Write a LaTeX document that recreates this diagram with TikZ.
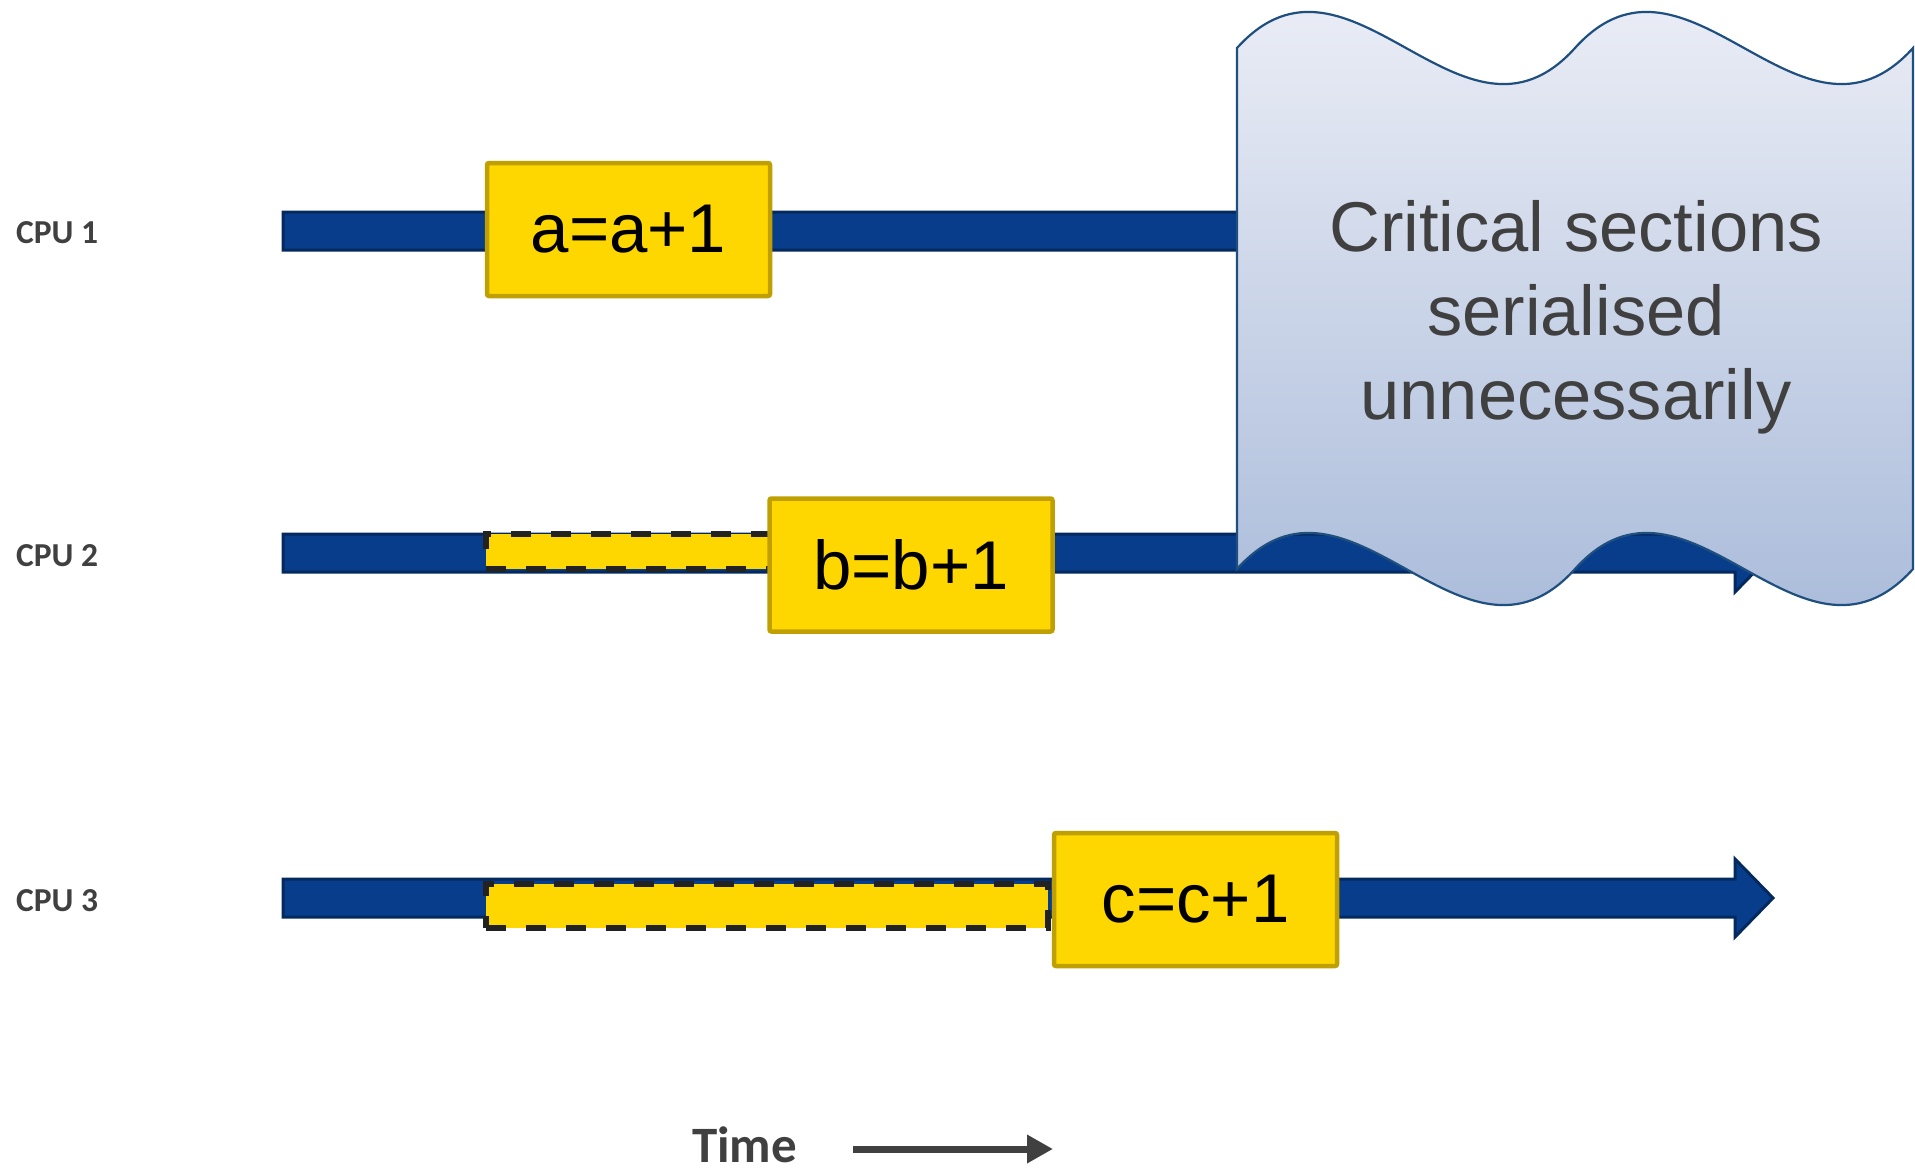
\documentclass[tikz,border=0pt]{standalone}
\usepackage{fontspec}
\setmainfont{Liberation Sans}
\newfontfamily\calibrifont{Carlito}
\usetikzlibrary{arrows.meta}
\definecolor{barblue}{HTML}{073D8A}
\definecolor{bardark}{HTML}{04295F}
\definecolor{cpuyellow}{HTML}{FFD700}
\definecolor{csborder}{HTML}{C0A000}
\definecolor{dashblack}{HTML}{222222}
\definecolor{labelgray}{HTML}{404040}
\definecolor{cloudtop}{RGB}{233,236,245}
\definecolor{cloudbot}{RGB}{172,189,219}
\definecolor{cloudline}{HTML}{1F4F7F}
\tikzset{
  bar/.style={fill=barblue, draw=bardark, line width=3pt, line join=miter},
  waitbox/.style={fill=cpuyellow, draw=dashblack, line width=5.5pt, dash pattern=on 20pt off 20pt, inner sep=0, outer sep=0},
  csbox/.style={fill=cpuyellow, draw=csborder, line width=4.5pt, rounded corners=2pt, inner sep=0,
    minimum width=283pt, minimum height=133pt, font=\fontsize{69}{80}\selectfont},
  cpulabel/.style={font=\calibrifont\bfseries\fontsize{33.5}{40}\selectfont, text=labelgray, anchor=base west, inner sep=0},
}
\newcommand{\cpubar}[1]{%
  \path[bar] (283,#1-19) -- (1735,#1-19) -- (1735,#1-39) -- (1773,#1) -- (1735,#1+39) -- (1735,#1+19) -- (283,#1+19) -- cycle;}
\newcommand{\cloudpath}{(1237,48) .. controls (1349.7,-77) and (1462.3,173) .. (1575,48) .. controls (1687.7,-77) and (1800.3,173) .. (1913,48) -- (1913,569) .. controls (1800.3,694) and (1687.7,444) .. (1575,569) .. controls (1462.3,694) and (1349.7,444) .. (1237,569) -- cycle}
\begin{document}
\begin{tikzpicture}[x=1pt,y=-1pt]
\useasboundingbox[fill=white] (0,0) rectangle (1915,1170);
% labels
\node[cpulabel] (l1) at (16,243) {CPU 1};
\node[cpulabel] (l2) at (16,566) {CPU 2};
\node[cpulabel] (l3) at (16,911) {CPU 3};
% timelines
\cpubar{231}
\cpubar{553}
\cpubar{898}
% waiting (dashed) boxes
\node[waitbox, minimum width=285pt, minimum height=35pt] (w2) at (628.5,551.5) {};
\node[waitbox, minimum width=562pt, minimum height=44pt] (w3) at (767,906) {};
% critical sections
\node[csbox] (a) at (628.5,229.5) {a=a+1};
\node[csbox] (b) at (911,565) {b=b+1};
\node[csbox] (c) at (1195.5,899.5) {c=c+1};
% wave callout
\begin{scope}
  \clip \cloudpath;
  \shade[top color=cloudtop, bottom color=cloudbot] (1230,12) rectangle (1915,606);
\end{scope}
\draw[cloudline, line width=2.2pt] \cloudpath;
\node[align=center, font=\fontsize{70.5}{84}\selectfont, text=labelgray] (cs) at (1576,317) {Critical sections\\serialised\\unnecessarily};
% time axis
\node[font=\calibrifont\bfseries\fontsize{51}{60}\selectfont, text=labelgray, anchor=base west, inner sep=0] (time) at (692,1162) {Time};
\coordinate (ts) at (853,1149);
\coordinate (te) at (1053,1149);
\draw[labelgray, line width=7pt, -{Triangle[length=26pt,width=27pt]}] (ts) -- (te);
\end{tikzpicture}
\end{document}
